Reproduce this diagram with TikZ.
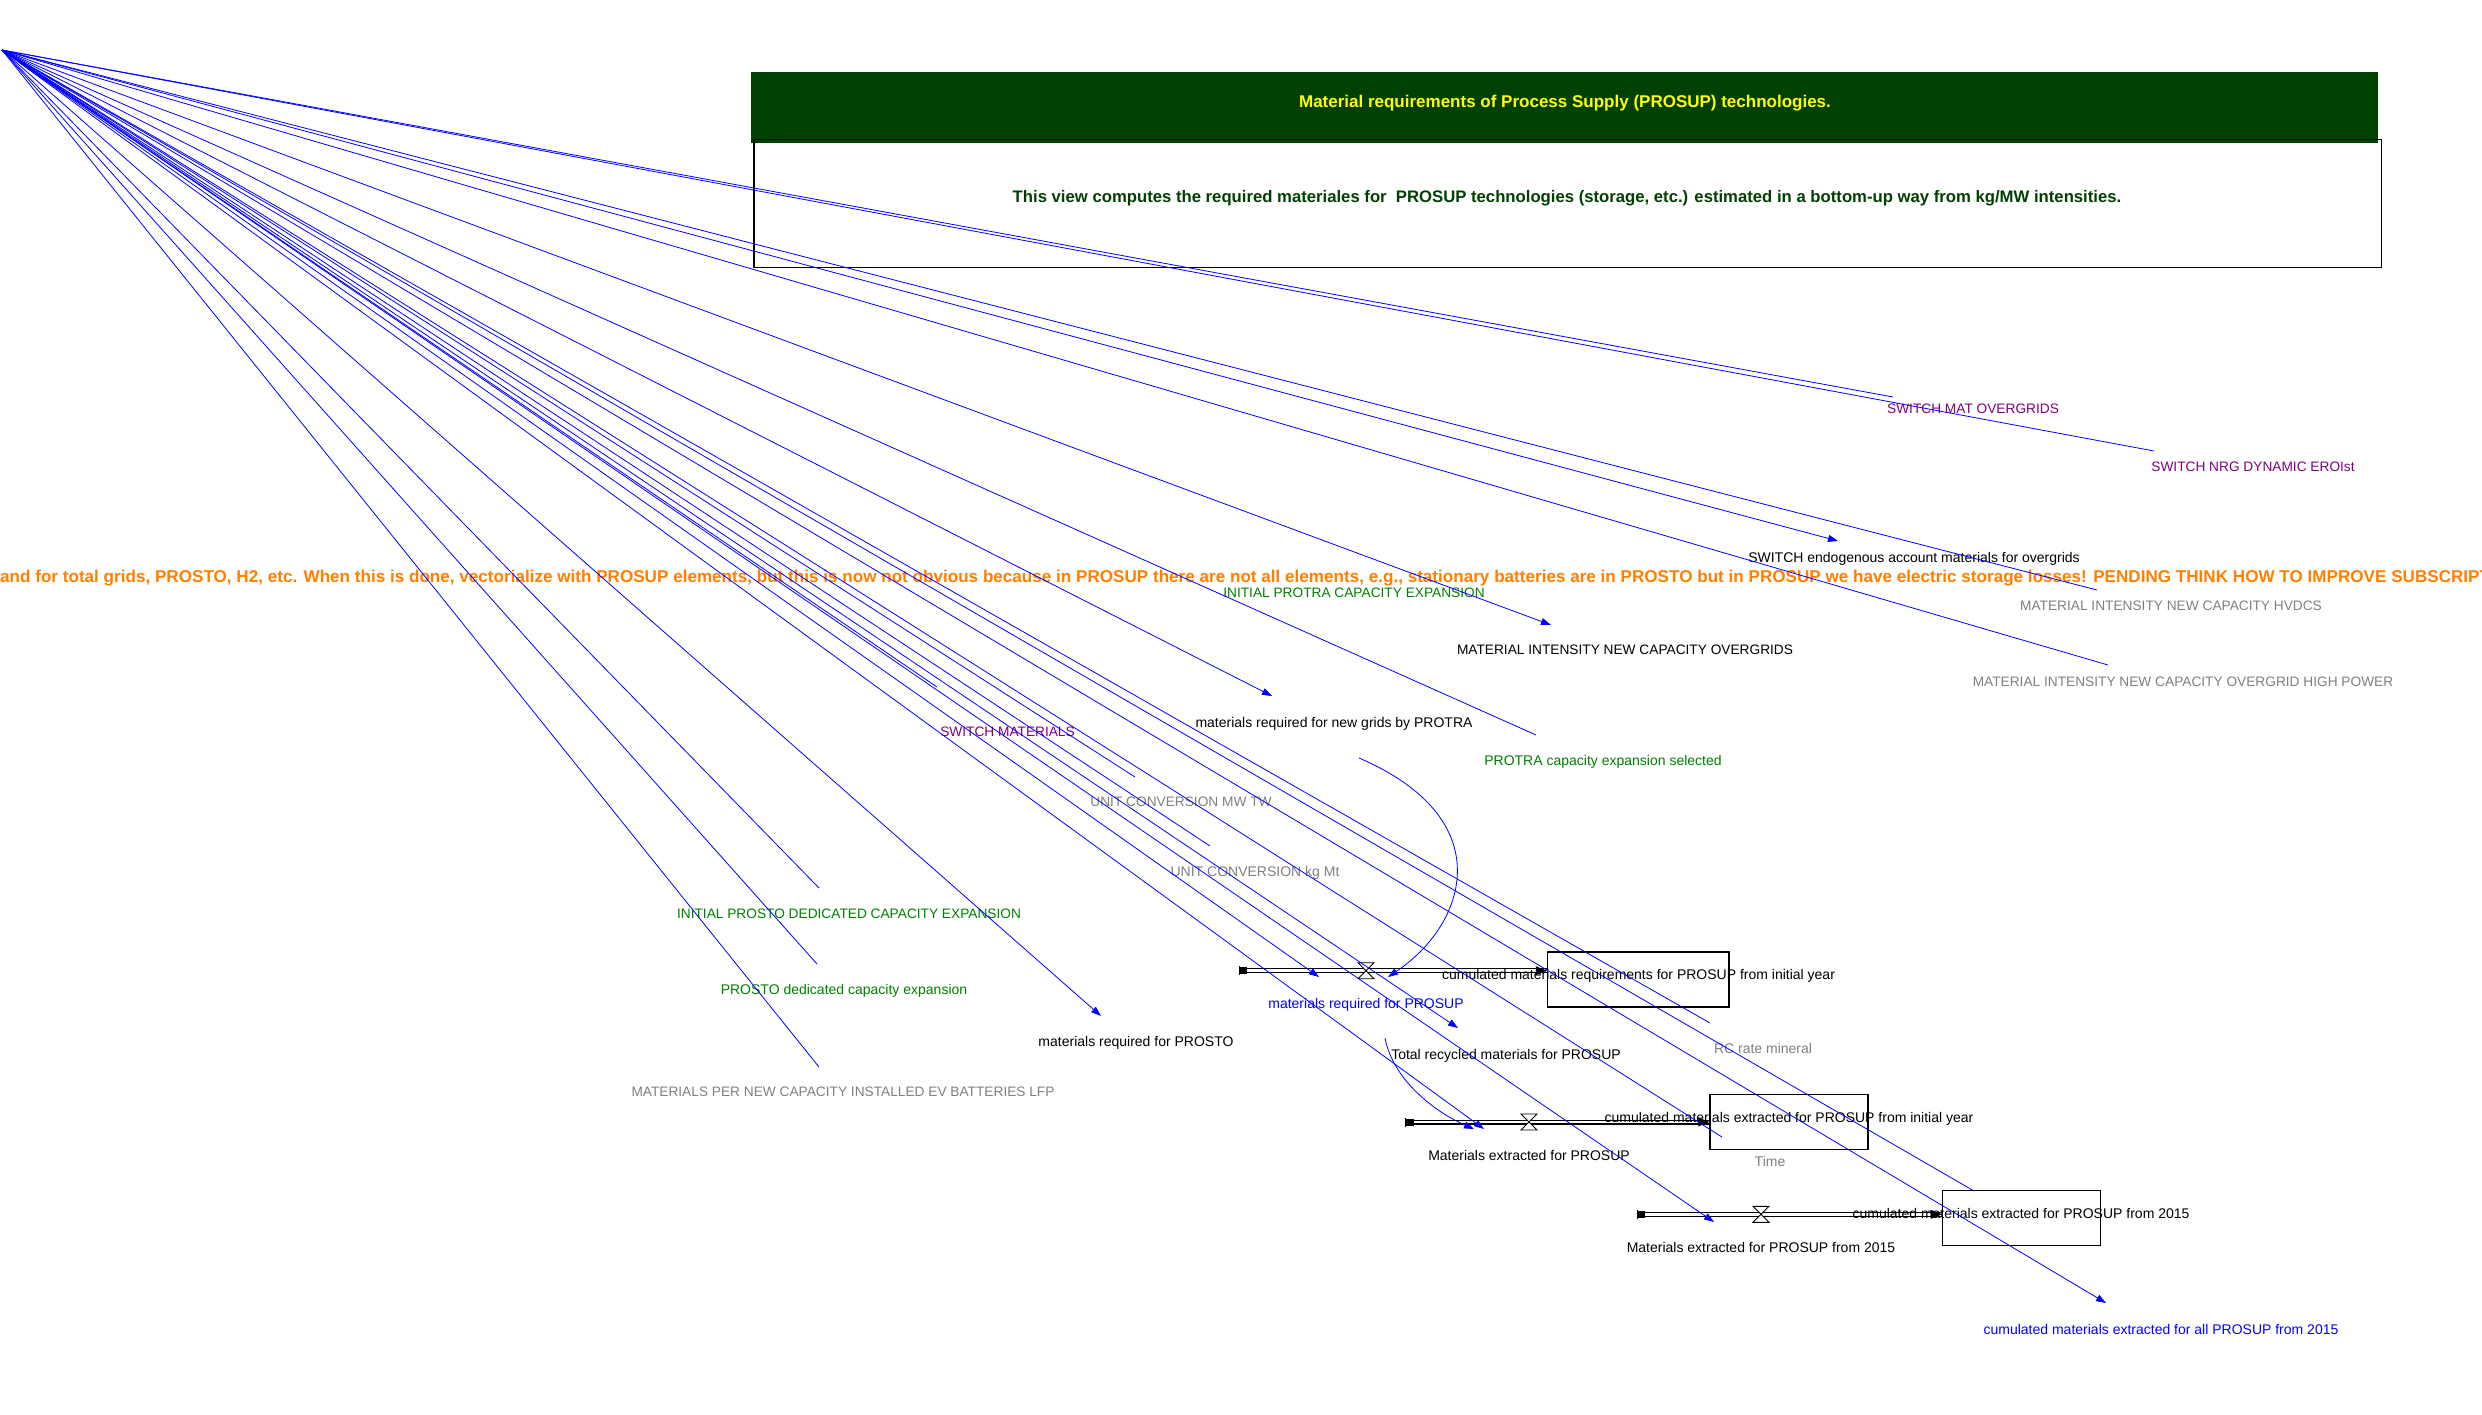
\documentclass[tikz,border=0pt]{standalone}
\usepackage{fontspec}
\setmainfont{Liberation Sans}
\usetikzlibrary{arrows.meta}
\definecolor{hdrgreen}{RGB}{0,64,0}
\definecolor{hdryellow}{RGB}{255,255,0}
\definecolor{varpurple}{RGB}{128,0,128}
\definecolor{vargreen}{RGB}{0,128,0}
\definecolor{vargrey}{RGB}{128,128,128}
\definecolor{linkblue}{RGB}{0,0,255}
\definecolor{noteorange}{RGB}{255,128,0}
\begin{document}
\begin{tikzpicture}[x=1pt,y=-1pt,
  lbl/.style={font=\fontsize{14}{16}\selectfont, inner sep=0pt, text height=10pt, text depth=0pt},
  lblcaps/.style={lbl, font=\fontsize{13.7}{16}\selectfont},
  hdr/.style={font=\bfseries\fontsize{17}{20}\selectfont, inner sep=0pt, text height=12pt, text depth=0pt},
  cn/.style={draw=linkblue, line width=0.8pt},
  cna/.style={cn, -{Triangle[length=10pt,width=7pt]}},
  stockbox/.style={draw=black, line width=1.3pt, minimum width=#1, minimum height=55pt, inner sep=0pt},
  pipe/.style={draw=black, line width=1.2pt, double=white, double distance=2.6pt},
  valve/.pic={\filldraw[fill=white, draw=black, line width=0.9pt] (-8,-8) -- (8,-8) -- (-8,8) -- (8,8) -- cycle;},
]
\useasboundingbox (0,0) rectangle (2482,1414);
\fill[white] (0,0) rectangle (2482,1414);

% ---------- header ----------
\fill[hdrgreen] (750.5,72) rectangle (2378,142.7);
\draw[black, line width=1.5pt] (754,139.3) rectangle (2381.5,267.3);
\node[hdr, text=hdryellow] (title) at (1565,101.7) {Material requirements of Process Supply (PROSUP) technologies.};
\node[hdr, font=\bfseries\fontsize{16.7}{20}\selectfont, text=hdrgreen] (subtitle) at (1567,196.7) {This view computes the required materiales for\ \ PROSUP technologies (storage, etc.) estimated in a bottom-up way from kg/MW intensities.};

% ---------- pending note ----------
\node[anchor=west, inner sep=0pt, text height=12pt, text depth=0pt, font=\bfseries\fontsize{17.1}{20}\selectfont, text=noteorange] (note) at (0,576) {and for total grids, PROSTO, H2, etc. When this is done, vectorialize with PROSUP elements, but this is now not obvious because in PROSUP there are not all elements, e.g., stationary batteries are in PROSTO but in PROSUP we have electric storage losses! PENDING THINK HOW TO IMPROVE SUBSCRIPT};

% ---------- stocks ----------
\node[stockbox=181.5pt] (s1) at (1638.3,979.4) {};
\node[stockbox=158pt] (s2) at (1789,1122) {};
\node[stockbox=158pt] (s3) at (2021.5,1218.3) {};

% ---------- flows ----------
\coordinate (src1) at (1239,970.7);
\coordinate (src2) at (1405.5,1122);
\coordinate (src3) at (1637,1214.3);
\coordinate (v1) at (1366,970.7);
\coordinate (v2) at (1529,1122);
\coordinate (v3) at (1761,1214.3);
\foreach \s/\v/\k in {src1/v1/s1, src2/v2/s2, src3/v3/s3}{
  \draw[pipe] (\s) -- (\k.west |- \v);
  \fill[black] (\k.west |- \v) -- ++(-11,-4.5) -- ++(0,9) -- cycle;
  \fill[black] (\s) ++(0,-3.5) rectangle ++(8,7);
  \draw[black, line width=1pt] (\s) ++(0,-4.5) -- ++(0,9);
  \pic at (\v) {valve};
}

% ---------- variables ----------
\node[lblcaps, text=varpurple] (swmat) at (1973,408) {SWITCH MAT OVERGRIDS};
\node[lblcaps, text=varpurple] (swnrg) at (2253,466) {SWITCH NRG DYNAMIC EROIst};
\node[lbl] (swendo) at (1914,557) {SWITCH endogenous account materials for overgrids};
\node[lblcaps, text=vargrey] (mihvdc) at (2171,605) {MATERIAL INTENSITY NEW CAPACITY HVDCS};
\node[lblcaps, text=vargrey] (mihp) at (2183,681) {MATERIAL INTENSITY NEW CAPACITY OVERGRID HIGH POWER};
\node[lblcaps] (miover) at (1625,649) {MATERIAL INTENSITY NEW CAPACITY OVERGRIDS};
\node[lblcaps, text=vargreen] (iniprotra) at (1354,592) {INITIAL PROTRA CAPACITY EXPANSION};
\node[lbl] (mgrids) at (1334,722) {materials required for new grids by PROTRA};
\node[lbl, text=vargreen] (protrasel) at (1603,760) {PROTRA capacity expansion selected};
\node[lblcaps, text=varpurple] (swmats) at (1007.5,731) {SWITCH MATERIALS};
\node[lblcaps, text=vargrey] (ucmw) at (1181,801) {UNIT CONVERSION MW TW};
\node[lbl, text=vargrey] (uckg) at (1255,871) {UNIT CONVERSION kg Mt};
\node[lblcaps, text=vargreen] (iniprosto) at (849,913) {INITIAL PROSTO DEDICATED CAPACITY EXPANSION};
\node[lbl, text=vargreen] (prostoded) at (844,989) {PROSTO dedicated capacity expansion};
\node[lblcaps, text=vargrey] (lfp) at (843,1091) {MATERIALS PER NEW CAPACITY INSTALLED EV BATTERIES LFP};
\node[lbl] (mprosto) at (1136,1041) {materials required for PROSTO};
\node[lbl, text=linkblue] (mprosup) at (1366,1003) {materials required for PROSUP};
\node[lbl] (recyc) at (1506,1054) {Total recycled materials for PROSUP};
\node[lbl] (s1txt) at (1638.5,974) {cumulated materials requirements for PROSUP from initial year};
\node[lbl, text=vargrey] (rcrate) at (1763,1048) {RC rate mineral};
\node[lbl] (s2txt) at (1789,1117) {cumulated materials extracted for PROSUP from initial year};
\node[lbl] (mextr) at (1529,1155) {Materials extracted for PROSUP};
\node[lbl, text=vargrey] (time) at (1770,1161) {Time};
\node[lbl] (s3txt) at (2021,1213) {cumulated materials extracted for PROSUP from 2015};
\node[lbl] (mextr15) at (1761,1247) {Materials extracted for PROSUP from 2015};
\node[lbl, text=linkblue] (cumall) at (2161,1329) {cumulated materials extracted for all PROSUP from 2015};

% ---------- connector ends ----------
\coordinate (o) at (2,50);
\coordinate (e1) at (1893,397);
\coordinate (e2) at (2154,451);
\coordinate (e3) at (1838,541);
\coordinate (e4) at (2097,590);
\coordinate (e5) at (2108,665);
\coordinate (e6) at (1551,625);
\coordinate (e7) at (1272,696);
\coordinate (e8) at (1536,735);
\coordinate (e9) at (819,888);
\coordinate (e10) at (817,964);
\coordinate (e11) at (819,1067);
\coordinate (e12) at (1101,1016);
\coordinate (e13) at (1135,777);
\coordinate (e14) at (1210,846);
\coordinate (e15) at (1319,977);
\coordinate (e16) at (1458,1028);
\coordinate (e17) at (1710,1023);
\coordinate (e18) at (1484,1129);
\coordinate (e19) at (1722,1137);
\coordinate (e20) at (1714,1222);
\coordinate (e21) at (1974,1191);
\coordinate (e22) at (2106,1303);
\coordinate (e23) at (937,687);

% ---------- connectors ----------
\foreach \e in {e1,e2,e4,e5,e8,e9,e10,e11,e13,e14,e17,e19,e21,e23}
  \draw[cn] (o) -- (\e);
\foreach \e in {e3,e6,e7,e12,e15,e16,e18,e20,e22}
  \draw[cna] (o) -- (\e);

% curved links into the valves
\coordinate (ca0) at (1359,758);
\coordinate (ca1) at (1388,977);
\coordinate (cb0) at (1385,1038);
\coordinate (cb1) at (1474,1129);
\draw[cna] (ca0) .. controls (1501,819) and (1467,924) .. (ca1);
\draw[cna] (cb0) .. controls (1393,1080) and (1435,1112) .. (cb1);
\end{tikzpicture}
\end{document}
